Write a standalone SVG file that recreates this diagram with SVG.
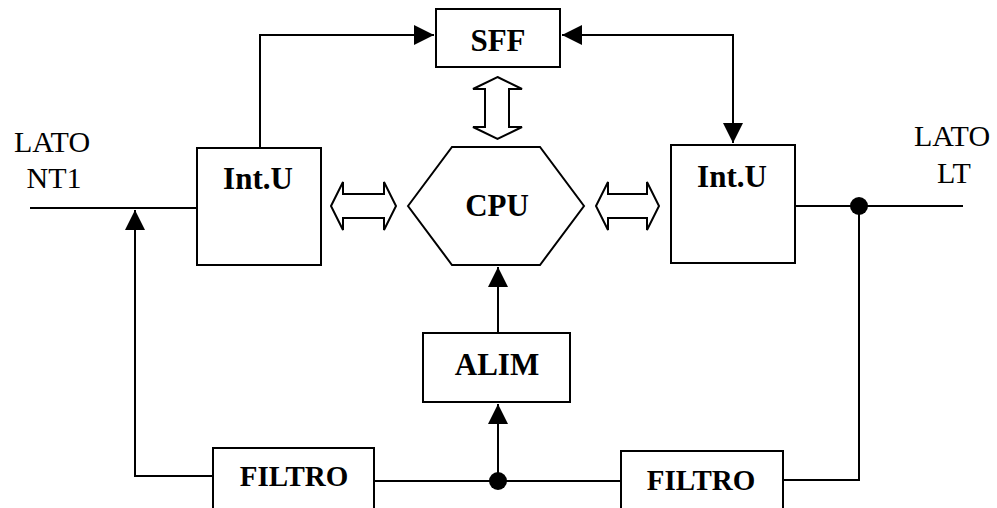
<svg xmlns="http://www.w3.org/2000/svg" width="997" height="508" viewBox="0 0 997 508">
<style>
.box{fill:#fff;stroke:#000;stroke-width:2}
.ln{fill:none;stroke:#000;stroke-width:2}
.hol{fill:#fff;stroke:#000;stroke-width:2;stroke-linejoin:miter}
.lbl{font-family:"Liberation Serif","Times New Roman",serif;font-weight:bold;font-size:31px;text-anchor:middle;fill:#000}
.side{font-family:"Liberation Serif","Times New Roman",serif;font-size:30px;text-anchor:middle;fill:#000}
.dot{fill:#000}
</style>
<defs>
<marker id="ah" viewBox="0 0 20 20" refX="20" refY="10" markerWidth="20" markerHeight="20" markerUnits="userSpaceOnUse" orient="auto-start-reverse">
<path d="M0,0 L20,10 L0,20 Z" fill="#000"/>
</marker>
</defs>
<g id="connectors">
<path class="ln" d="M260,148 L260,35 L434,35" marker-end="url(#ah)"/>
<path class="ln" d="M562,35 L733,35 L733,143" marker-start="url(#ah)" marker-end="url(#ah)"/>
<path class="ln" d="M30,208 L197,208"/>
<path class="ln" d="M213,476 L135,476 L135,210" marker-end="url(#ah)"/>
<path class="ln" d="M795,206 L963,206"/>
<path class="ln" d="M859,206 L859,480 L783,480"/>
<path class="ln" d="M374,481 L621,481"/>
<path class="ln" d="M498,481 L498,404" marker-end="url(#ah)"/>
<path class="ln" d="M498,333 L498,267" marker-end="url(#ah)"/>
<circle class="dot" cx="859" cy="206" r="9"/>
<circle class="dot" cx="498" cy="481" r="9"/>
<path class="hol" d="M331,206 L343,182 L343,194 L384,194 L384,182 L396,206 L384,230 L384,218 L343,218 L343,230 Z"/>
<path class="hol" d="M596,206 L608,182 L608,194 L647,194 L647,182 L659,206 L647,230 L647,218 L608,218 L608,230 Z"/>
<path class="hol" d="M497.5,77 L522,89 L509,89 L509,127 L522,127 L497.5,139 L473,127 L485,127 L485,89 L473,89 Z"/>
</g>
<g id="sff">
<rect class="box" x="436" y="9" width="124" height="58"/>
<text class="lbl" x="498" y="51">SFF</text>
</g>
<g id="intu-left">
<rect class="box" x="197" y="148" width="124" height="117"/>
<text class="lbl" x="258" y="189">Int.U</text>
</g>
<g id="cpu">
<polygon class="box" points="408,206 452,147 540,147 584,206 540,265 452,265"/>
<text class="lbl" x="497" y="216">CPU</text>
</g>
<g id="intu-right">
<rect class="box" x="671" y="145" width="124" height="118"/>
<text class="lbl" x="732" y="187">Int.U</text>
</g>
<g id="alim">
<rect class="box" x="423" y="333" width="147" height="69"/>
<text class="lbl" x="497" y="375">ALIM</text>
</g>
<g id="filtro-left">
<rect class="box" x="213" y="448" width="161" height="80"/>
<text class="lbl" x="294" y="486" style="font-size:29px">FILTRO</text>
</g>
<g id="filtro-right">
<rect class="box" x="621" y="451" width="162" height="80"/>
<text class="lbl" x="701" y="490" style="font-size:29px">FILTRO</text>
</g>
<g id="lato-nt1">
<text class="side" x="52" y="152">LATO</text>
<text class="side" x="54" y="188">NT1</text>
</g>
<g id="lato-lt">
<text class="side" x="952" y="146">LATO</text>
<text class="side" x="954" y="183">LT</text>
</g>
</svg>
